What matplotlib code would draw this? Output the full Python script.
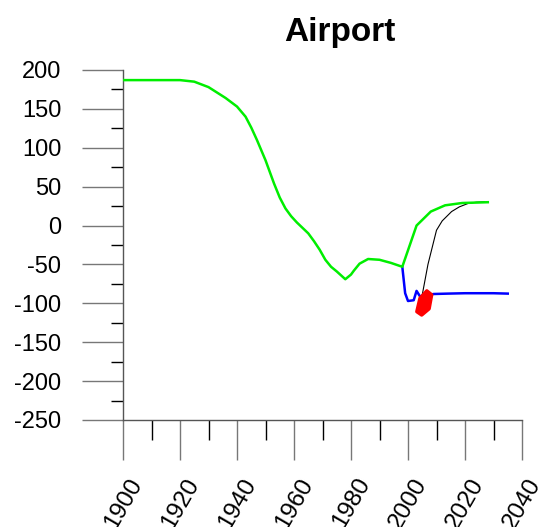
import matplotlib
matplotlib.use('Agg')
import matplotlib.pyplot as plt
from matplotlib.ticker import MultipleLocator

plt.rcParams['font.family'] = ['Liberation Sans', 'DejaVu Sans']
plt.rcParams['axes.unicode_minus'] = False

# green: historic + projected
green_years = [1900, 1905, 1910, 1915, 1920, 1925, 1930, 1933, 1936, 1940, 1943,
               1945, 1947, 1950, 1953, 1955, 1957, 1959, 1961, 1963, 1965, 1967,
               1969, 1971, 1973, 1975, 1978, 1980, 1981, 1983, 1985, 1986, 1990,
               1994, 1998, 2003, 2008, 2013, 2019, 2028]
green_vals = [187, 187, 187, 187, 187, 185, 178, 171, 164, 153, 140,
              126, 110, 84, 54, 36, 22, 12, 4, -3, -10, -20,
              -31, -44, -53, -59, -69, -63, -58, -49, -45, -43, -44,
              -48, -53, 0, 18, 26, 29, 30]

# blue branch
blue_years = [1998, 1999, 2000, 2002, 2003, 2004.2, 2006, 2009, 2014, 2020, 2030, 2035]
blue_vals = [-53, -87, -97, -96, -84, -91, -90, -88, -87.5, -87, -87, -87.5]

# black branch
black_years = [2004.8, 2007, 2010, 2012, 2015.3, 2018, 2021.2, 2024, 2027]
black_vals = [-93, -50, -6, 6, 18, 24, 28.6, 30, 30.5]

# red blob outline
red_years = [2006.6, 2008.3, 2007.4, 2004.8, 2003.1, 2004.2]
red_vals = [-84, -89, -107, -115, -110.7, -93.5]

fig = plt.figure(figsize=(5.4, 5.27), dpi=100)
ax = fig.add_axes([123 / 540, 1 - 420 / 527, 399 / 540, 350 / 527])

ax.plot(green_years, green_vals, color='#00ee00', lw=1.8, zorder=3)
ax.plot(blue_years, blue_vals, color='#0000ff', lw=1.8, zorder=2)
ax.plot(black_years, black_vals, color='black', lw=0.8, zorder=2)
ax.fill(red_years, red_vals, color='#ff0000', lw=2.5, ec='#ff0000',
        joinstyle='round', zorder=4)

ax.set_xlim(1900, 2040)
ax.set_ylim(-250, 200)

ax.spines['top'].set_visible(False)
ax.spines['right'].set_visible(False)
for s in ('left', 'bottom'):
    ax.spines[s].set_color('#555555')
    ax.spines[s].set_linewidth(1)

ax.xaxis.set_major_locator(MultipleLocator(20))
ax.xaxis.set_minor_locator(MultipleLocator(10))
ax.yaxis.set_major_locator(MultipleLocator(50))
ax.yaxis.set_minor_locator(MultipleLocator(25))

ax.tick_params(axis='y', which='major', length=29.5, width=1, color='#777777',
               labelsize=17, pad=15)
ax.tick_params(axis='y', which='minor', length=8.6, width=1, color='black')
ax.tick_params(axis='x', which='major', length=29, width=1, color='#777777',
               labelsize=17.5, pad=10)
ax.tick_params(axis='x', which='minor', length=14.4, width=1, color='black')
for lab in ax.get_xticklabels():
    lab.set_rotation(60)
    lab.set_ha('center')

fig.text(340 / 540, 1 - 33 / 527, 'Airport', fontsize=24, fontweight='bold',
         ha='center', va='center')

fig.savefig('out.png', dpi=100)
